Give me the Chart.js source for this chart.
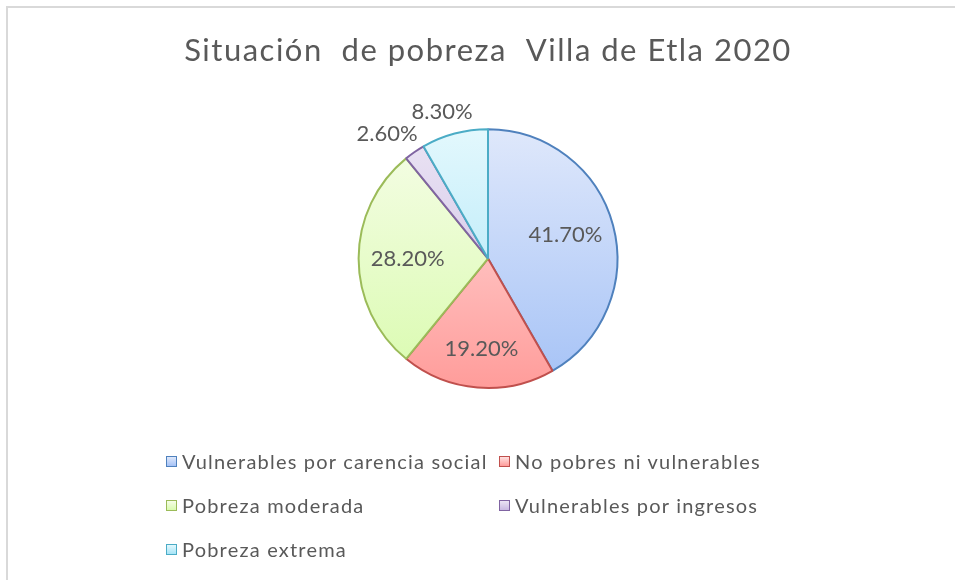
<!DOCTYPE html>
<html>
<head>
<meta charset="utf-8">
<script src="https://cdn.jsdelivr.net/npm/chart.js@4.4.1/dist/chart.umd.min.js"></script>
<style>
  body { margin: 0; background: #fff; overflow: hidden; }
  #wrap { position: relative; width: 955px; height: 580px; }
  #frame { position: absolute; left: 6px; top: 6px; width: 980px; height: 600px;
           border-left: 2px solid #d9d9d9; border-top: 2px solid #d9d9d9; }
  canvas { position: absolute; left: 0; top: 0; }
  #legend { position: absolute; left: 166px; top: 447px; width: 640px;
            display: grid; grid-template-columns: 333px 300px; row-gap: 16px;
            font-family: Lato, sans-serif; font-size: 20px; letter-spacing: 1.2px; color: #595959; }
  #legend div { display: flex; align-items: center; height: 28px; white-space: nowrap; }
  #legend span.box { width: 9px; height: 9px; border: 1px solid; margin-right: 5px; }
</style>
</head>
<body>
<div id="wrap">
  <div id="frame"></div>
  <canvas id="chart1" width="955" height="580"></canvas>
  <div id="legend"></div>
</div>
<script>
var categories = ['Vulnerables por carencia social', 'No pobres ni vulnerables', 'Pobreza moderada', 'Vulnerables por ingresos', 'Pobreza extrema'];
var values = [41.7, 19.2, 28.2, 2.6, 8.3];
var lineColors = ['#4f81bd', '#c0504d', '#9bbb59', '#8064a2', '#4bacc6'];
var lightColors = ['#dfe8fb', '#ffe0e0', '#f6fde8', '#ebe4f4', '#e3f8fd'];
var darkColors = ['#a5c2f6', '#ff9c9a', '#d9fbae', '#c9b9e2', '#a6e4f7'];

function fillFor(ctx) {
    var chart = ctx.chart;
    var area = chart.chartArea;
    if (!area) return lightColors[ctx.dataIndex];
    var g = chart.ctx.createLinearGradient(0, area.top, 0, area.bottom);
    g.addColorStop(0, lightColors[ctx.dataIndex]);
    g.addColorStop(1, darkColors[ctx.dataIndex]);
    return g;
}

// wider title spacing, reset before the slices are drawn
var spacingPlugin = {
    id: 'titleSpacing',
    beforeDraw: function (chart) { chart.ctx.letterSpacing = '1.5px'; },
    beforeDatasetsDraw: function (chart) { chart.ctx.letterSpacing = '0px'; }
};

// data labels: inside for big slices, outside for small ones
var labelPlugin = {
    id: 'pieLabels',
    afterDatasetsDraw: function (chart) {
        var c = chart.ctx;
        var meta = chart.getDatasetMeta(0);
        c.save();
        c.font = '22px Lato';
        c.fillStyle = '#595959';
        c.textAlign = 'center';
        c.textBaseline = 'middle';
        meta.data.forEach(function (arc, i) {
            var txt = values[i].toFixed(2) + '%';
            var mid = (arc.startAngle + arc.endAngle) / 2;
            var dx = Math.cos(mid), dy = Math.sin(mid);
            var r = arc.outerRadius;
            var x, y;
            if (values[i] >= 10) {
                x = arc.x + dx * r * 0.62;
                y = arc.y + dy * r * 0.7;
            } else {
                var w = c.measureText(txt).width;
                x = arc.x + dx * (r + 24) + Math.sign(dx) * w / 2 * Math.abs(dx) * 0.8;
                y = arc.y + dy * (r + 22);
            }
            c.fillText(txt, x, y);
        });
        c.restore();
    }
};

var ctx1 = document.getElementById('chart1').getContext('2d');
var chart1 = new Chart(ctx1, {
    type: 'pie',
    data: {
        labels: categories,
        datasets: [{
            data: values,
            backgroundColor: fillFor,
            borderColor: lineColors,
            borderWidth: 2
        }]
    },
    options: {
        responsive: false,
        animation: false,
        layout: { padding: { left: 21, right: 0, top: 10, bottom: 191 } },
        plugins: {
            title: {
                display: true,
                text: 'Situación  de pobreza  Villa de Etla 2020',
                color: '#595959',
                font: { family: 'Lato', size: 31, weight: 'normal' },
                padding: { top: 22, bottom: 59 }
            },
            legend: { display: false },
            tooltip: { enabled: false }
        }
    },
    plugins: [spacingPlugin, labelPlugin]
});

var legend = document.getElementById('legend');
categories.forEach(function (name, i) {
    var item = document.createElement('div');
    var box = document.createElement('span');
    box.className = 'box';
    box.style.borderColor = lineColors[i];
    box.style.background = 'linear-gradient(' + lightColors[i] + ',' + darkColors[i] + ')';
    item.appendChild(box);
    item.appendChild(document.createTextNode(name));
    legend.appendChild(item);
});
</script>
</body>
</html>
